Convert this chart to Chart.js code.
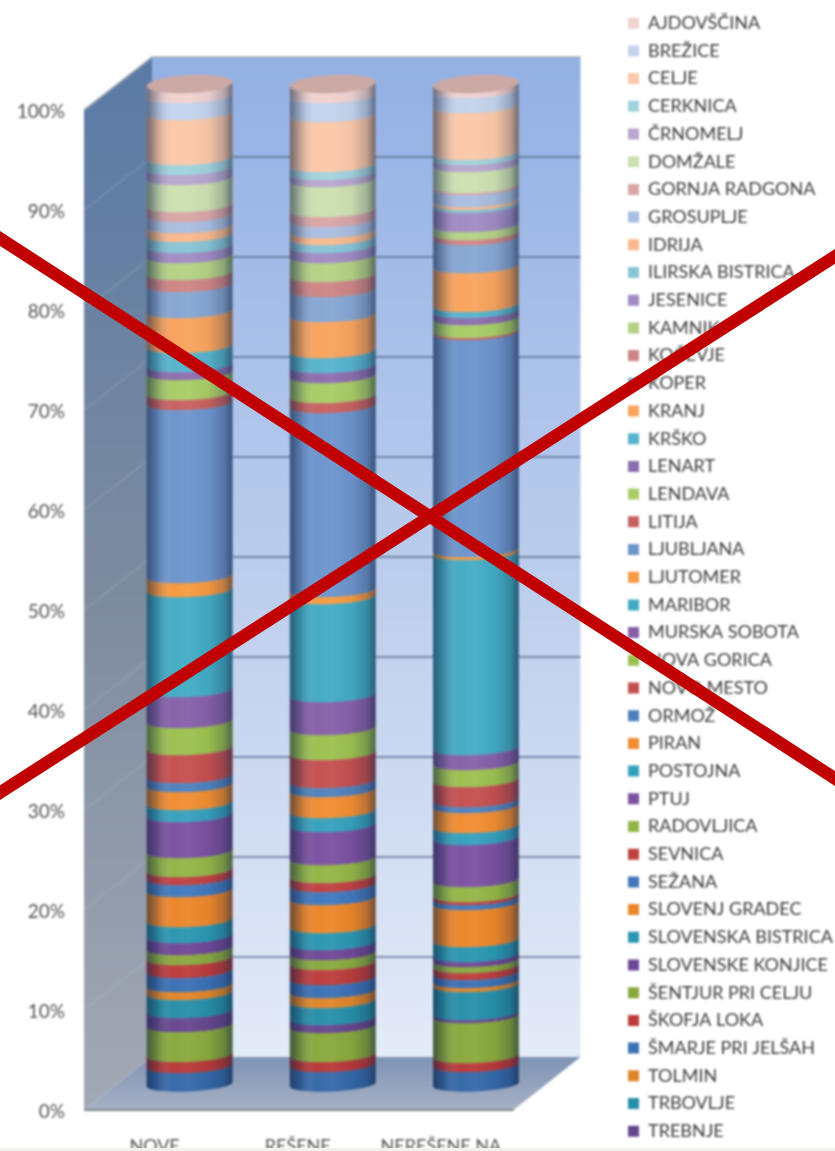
<!DOCTYPE html>
<html><head><meta charset="utf-8">
<style>
html,body{margin:0;padding:0;background:#fff;width:835px;height:1151px;overflow:hidden}
#wrap{position:relative;width:835px;height:1151px;overflow:hidden}
canvas{position:absolute;left:0;top:0;filter:blur(0.85px)}
svg{position:absolute;left:0;top:0}
#edge{position:absolute;left:0;top:1148px;width:835px;height:3px;background:#F1F1EE}
</style>
<script src="https://cdn.jsdelivr.net/npm/chart.js@4"></script>
</head><body>
<div id="wrap"><canvas id="c" width="835" height="1300" style="width:835px;height:1300px"></canvas>
<div id="edge"></div>
<svg width="835" height="1151"><line x1="-10" y1="232" x2="845" y2="785" stroke="#C00000" stroke-width="12.5"/><line x1="-10" y1="799" x2="845" y2="250" stroke="#C00000" stroke-width="12.5"/></svg>
</div>
<script>
const categories=["NOVE","REŠENE","NEREŠENE NA"];
const percentTicks=[0,10,20,30,40,50,60,70,80,90,100];
// bottom of the stack first
const courts=["ŽALEC","VRHNIKA","VELENJE","TREBNJE","TRBOVLJE","TOLMIN","ŠMARJE PRI JELŠAH","ŠKOFJA LOKA","ŠENTJUR PRI CELJU","SLOVENSKE KONJICE","SLOVENSKA BISTRICA","SLOVENJ GRADEC","SEŽANA","SEVNICA","RADOVLJICA","PTUJ","POSTOJNA","PIRAN","ORMOŽ","NOVO MESTO","NOVA GORICA","MURSKA SOBOTA","MARIBOR","LJUTOMER","LJUBLJANA","LITIJA","LENDAVA","LENART","KRŠKO","KRANJ","KOPER","KOČEVJE","KAMNIK","JESENICE","ILIRSKA BISTRICA","IDRIJA","GROSUPLJE","GORNJA RADGONA","DOMŽALE","ČRNOMELJ","CERKNICA","CELJE","BREŽICE","AJDOVŠČINA"];
const nove=[1.8,1.1,3.0,1.4,1.8,0.8,1.4,1.3,1.0,1.2,1.6,3.0,1.2,0.8,1.9,3.6,1.2,1.8,0.9,2.8,2.7,3.1,10.0,1.4,17.3,1.0,2.0,0.8,1.9,3.5,2.6,1.2,1.7,1.0,1.1,0.9,1.1,1.0,2.7,1.0,1.0,4.5,1.7,1.2];
const resene=[1.9,1.0,2.9,0.8,1.7,1.0,1.3,1.5,1.0,1.0,1.7,2.8,1.3,0.9,1.8,3.3,1.4,2.1,0.9,2.8,2.5,3.3,9.8,0.7,18.4,1.0,2.0,1.0,1.5,3.6,2.5,1.5,1.9,1.0,0.8,0.7,1.1,1.0,3.0,0.7,0.8,5.0,1.9,1.2];
const neresene=[1.9,0.9,4.0,0.3,2.8,0.4,0.8,0.7,0.6,0.5,1.5,3.7,0.5,0.3,1.5,4.2,1.2,2.0,0.6,2.0,1.7,1.5,19.5,0.3,21.7,0.2,1.3,0.7,0.6,3.9,2.8,0.5,0.8,1.9,0.3,0.3,1.2,0.2,2.1,0.7,0.5,4.7,1.5,0.7];
const colors=["#3468A8","#B83838","#88A83C","#66468E","#268FA8","#E08428","#3A70B5","#BC3B3B","#88A83E","#6F4796","#2A96B0","#EC8629","#4078BC","#C04040","#92B545","#7A50A0","#35A0BC","#F08C30","#4F81BD","#C44F4F","#9CC04E","#8560A8","#42ABC4","#F7993E","#6C94CC","#C8605F","#A8CC66","#8C6DAD","#55B3CC","#F9A35C","#85A6D2","#CE8484","#B4D184","#A08BC2","#85C4D6","#F9B88C","#A8BDDF","#D9A5A5","#CDE0B0","#B7A6CE","#A0D2DC","#FBC8A8","#C3D3EC","#F0D2CF"];

const FONT='Lato, Carlito, sans-serif';
const RY=7, ROT=-0.05;
// Legend box: the layout would otherwise cap its width at a fraction of the canvas.
const legendProto=Chart.Legend._element.prototype, baseFit=legendProto.fit, baseDraw=legendProto.draw;
legendProto.fit=function(){baseFit.call(this);this.width=216.7;};
legendProto.draw=function(){this.ctx.save();this.ctx.translate(0,4.5);baseDraw.call(this);this.ctx.restore();};
// Cylinder segment: element geometry comes from the library's own bar layout.
Chart.BarElement.prototype.draw=function(ctx){
  const {x,y,base,width}=this.getProps(['x','y','base','width']);
  const rx=width/2, c=this.options.backgroundColor;
  const path=()=>{ctx.beginPath();ctx.ellipse(x,y,rx,RY,ROT,Math.PI,0,true);ctx.ellipse(x,base+0.4,rx,RY,ROT,0,Math.PI,false);ctx.closePath();};
  ctx.save();
  path();ctx.fillStyle=c;ctx.fill();
  const g=ctx.createLinearGradient(x-rx,0,x+rx,0);
  g.addColorStop(0,'rgba(20,35,65,.6)');g.addColorStop(.12,'rgba(20,35,65,.25)');g.addColorStop(.3,'rgba(255,255,255,.02)');
  g.addColorStop(.5,'rgba(255,255,255,.05)');g.addColorStop(.72,'rgba(20,35,65,.03)');g.addColorStop(.9,'rgba(20,35,65,.25)');g.addColorStop(1,'rgba(20,35,65,.6)');
  path();ctx.fillStyle=g;ctx.fill();
  ctx.restore();
};
const scene={id:'scene',
  beforeDatasetsDraw(ch){
    const {ctx,chartArea:a,scales:{y}}=ch;
    const fl=a.left-34,bl=a.left+34,fr=a.right-34,br=a.right+33,dy=53;
    const f0=y.getPixelForValue(0),f100=y.getPixelForValue(100),b0=f0-dy,b100=f100-dy;
    ctx.save();
    let g=ctx.createLinearGradient(0,b100,0,b0);
    g.addColorStop(0,'#93B0E4');g.addColorStop(.35,'#AEC4EA');g.addColorStop(.7,'#CBD8F0');g.addColorStop(1,'#E4EBF8');
    ctx.fillStyle=g;ctx.fillRect(bl,b100,br-bl,b0-b100);
    g=ctx.createLinearGradient(0,b100,0,f0);
    g.addColorStop(0,'#5A7AA6');g.addColorStop(.5,'#7D8B9F');g.addColorStop(1,'#A3A9B5');
    ctx.fillStyle=g;ctx.beginPath();ctx.moveTo(fl,f100);ctx.lineTo(bl,b100);ctx.lineTo(bl,b0);ctx.lineTo(fl,f0);ctx.closePath();ctx.fill();
    g=ctx.createLinearGradient(0,b0,0,f0);
    g.addColorStop(0,'#7F93B5');g.addColorStop(1,'#A7B1C4');
    ctx.fillStyle=g;ctx.beginPath();ctx.moveTo(fl,f0);ctx.lineTo(bl,b0);ctx.lineTo(br,b0);ctx.lineTo(fr,f0);ctx.closePath();ctx.fill();
    ctx.lineWidth=1.4;
    percentTicks.slice(1,-1).forEach(v=>{
      const p=y.getPixelForValue(v);
      ctx.strokeStyle='rgba(75,95,130,.85)';ctx.beginPath();ctx.moveTo(bl,p-dy);ctx.lineTo(br,p-dy);ctx.stroke();
      ctx.strokeStyle='rgba(190,200,215,.22)';ctx.beginPath();ctx.moveTo(fl,p);ctx.lineTo(bl,p-dy);ctx.stroke();
    });
    ctx.strokeStyle='#A8ADB5';ctx.lineWidth=1.6;
    ctx.beginPath();ctx.moveTo(fl,f100);ctx.lineTo(bl,b100);ctx.lineTo(br,b100);ctx.stroke();
    ctx.strokeStyle='#7C818B';ctx.lineWidth=2;
    ctx.beginPath();ctx.moveTo(fl,f0);ctx.lineTo(fr,f0);ctx.stroke();
    ctx.restore();
  },
  afterDatasetsDraw(ch){
    const {ctx}=ch,meta=ch.getDatasetMeta(courts.length-1);
    ctx.save();
    meta.data.forEach(e=>{
      const {x,y,width}=e.getProps(['x','y','width']);
      ctx.beginPath();ctx.ellipse(x,y,width/2,9,ROT,0,Math.PI*2);
      ctx.fillStyle='#CBA8A4';ctx.fill();
    });
    ctx.restore();
  }
};
const hiddenAxis=(extra)=>Object.assign({display:true,grid:{display:false,drawTicks:false},border:{display:false},ticks:{display:false}},extra);
new Chart(document.getElementById('c'),{
  type:'bar',
  data:{labels:categories,datasets:courts.map((n,i)=>({label:n,data:[nove[i],resene[i],neresene[i]],backgroundColor:colors[i],yAxisID:'y1',xAxisID:'x',stack:'s',clip:false,barPercentage:0.6,categoryPercentage:1}))},
  plugins:[scene],
  options:{responsive:false,animation:false,devicePixelRatio:1,
    layout:{padding:0},
    plugins:{tooltip:{enabled:false},title:{display:false},
      legend:{position:'right',align:'start',reverse:true,
        labels:{boxWidth:11,boxHeight:11,padding:9.7,color:'#3c3c3c',font:{family:FONT,size:18}}}},
    scales:{
      x:{stacked:true,position:'bottom',grid:{display:false,drawTicks:false},border:{display:false},
         ticks:{color:'#555',font:{family:FONT,size:18},padding:25,labelOffset:-35,maxRotation:0,autoSkip:false},
         afterFit(s){s.height=190;}},
      xTop:hiddenAxis({type:'category',labels:categories,position:'top',afterFit(s){s.height=110;}}),
      y:{min:0,max:100,position:'left',grid:{display:false,drawTicks:false},border:{display:false},
         afterBuildTicks(s){s.ticks=percentTicks.map(v=>({value:v}));},
         ticks:{color:'#555',font:{family:FONT,size:19},padding:53,labelOffset:2,callback:v=>v+'%'},
         afterFit(s){s.width=118;}},
      y1:hiddenAxis({stacked:true,min:-2.6,max:97.4,position:'right',afterFit(s){s.width=70.8;}})
    }
  }
});
</script>
</body></html>
